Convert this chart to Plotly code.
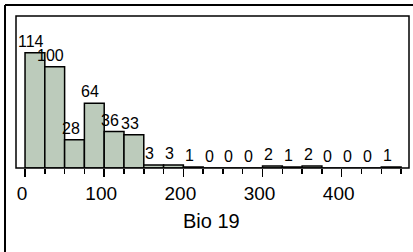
import plotly.graph_objects as go

# Histogram of Bio 19: bin edges (width 25) and counts
bin_edges = [0, 25, 50, 75, 100, 125, 150, 175, 200, 225, 250, 275, 300, 325, 350, 375, 400, 425, 450, 475]
counts = [114, 100, 28, 64, 36, 33, 3, 3, 1, 0, 0, 0, 2, 1, 2, 0, 0, 0, 1]
tick_vals = [0, 100, 200, 300, 400]
x_title = "Bio 19"

W, H = 413, 252
L, R, T, B = 16, 4, 16, 84
pw, ph = W - L - R, H - T - B

centers = [(bin_edges[i] + bin_edges[i + 1]) / 2 for i in range(len(counts))]
widths = [bin_edges[i + 1] - bin_edges[i] for i in range(len(counts))]

fig = go.Figure()
fig.add_trace(go.Bar(
    x=centers, y=counts, width=widths,
    marker=dict(color="#bccbbb", line=dict(color="black", width=1.5)),
    hoverinfo="skip",
))

for xc, c in zip(centers, counts):
    fig.add_annotation(
        x=xc, y=c, text=str(c), showarrow=False,
        xanchor="center", yanchor="bottom", xshift=-4, yshift=1,
        font=dict(family="Liberation Sans, Arial", size=16, color="black"),
    )

def px(x):
    return (x - L) / pw

def py(y):
    return 1 - (y - T) / ph

# inner box
fig.add_shape(type="rect", xref="paper", yref="paper", x0=0, x1=1, y0=0, y1=1,
              line=dict(color="black", width=1.5))
# outer frame (left and top edges)
fig.add_shape(type="line", xref="paper", yref="paper", x0=px(5), x1=px(5), y0=py(5), y1=py(H + 5),
              line=dict(color="black", width=2))
fig.add_shape(type="line", xref="paper", yref="paper", x0=px(5), x1=px(W + 5), y0=py(5), y1=py(5),
              line=dict(color="black", width=2))

fig.add_annotation(
    xref="paper", yref="paper", x=0.5, y=py(221), text=x_title, showarrow=False,
    xanchor="center", yanchor="middle", xshift=-1,
    font=dict(family="Liberation Sans, Arial", size=20, color="black"),
)

fig.update_layout(
    width=W, height=H,
    margin=dict(l=L, r=R, t=T, b=B, pad=0),
    paper_bgcolor="white", plot_bgcolor="white",
    showlegend=False, bargap=0,
    xaxis=dict(
        range=[-11.4, 485], tickmode="array", tickvals=tick_vals,
        ticks="outside", ticklen=8, tickwidth=1.5, tickcolor="black",
        minor=dict(ticks="outside", ticklen=5, tickwidth=1.5, tickcolor="black", dtick=25, tick0=0),
        showgrid=False, zeroline=False, showline=False,
        tickfont=dict(family="Liberation Sans, Arial", size=19, color="black"),
        ticklabelshift=-3,
    ),
    yaxis=dict(range=[0, 150.3], visible=False, showgrid=False, zeroline=False),
)

fig.write_html(
    "out.html",
    config={"displayModeBar": False, "staticPlot": True},
    post_script="document.body.style.margin='0';document.body.style.overflow='hidden';",
)
